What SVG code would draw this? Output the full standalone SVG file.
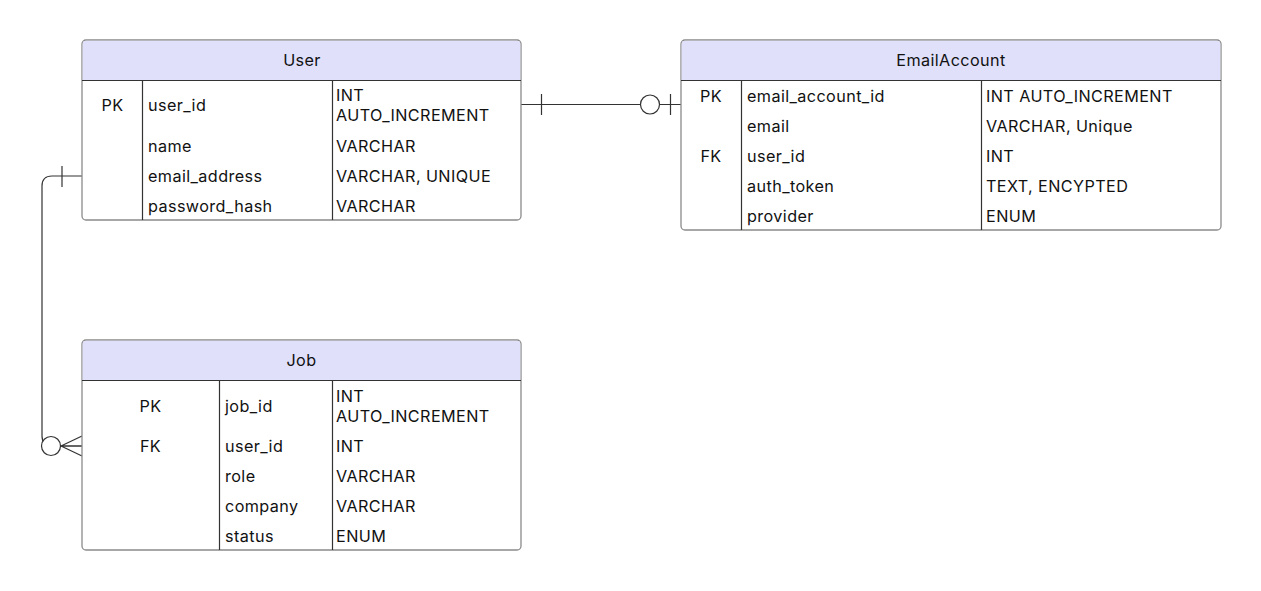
<svg xmlns="http://www.w3.org/2000/svg" width="1261" height="591" viewBox="0 0 1261 591">
<style>
.box{fill:#ffffff;stroke:#8a8a8a;stroke-width:1.3}
.hdr{fill:#e0e0fb}
.sep{stroke:#333333;stroke-width:1.2}
.t{font-family:Inter,"Liberation Sans",sans-serif;font-size:16.2px;letter-spacing:0.4px;fill:#111111}
.c{text-anchor:middle}
.ln{fill:none;stroke:#333333;stroke-width:1.2}
.ring{fill:#ffffff;stroke:#333333;stroke-width:1.2}
</style>
<rect width="1261" height="591" fill="#ffffff"/>
<g id="connectors">
  <path class="ln" d="M521,104.5 H681"/>
  <path class="ln" d="M541.5,94 V115"/>
  <circle class="ring" cx="650" cy="104.5" r="9.5"/>
  <path class="ln" d="M670.5,94 V115"/>
  <path class="ln" d="M82,176 H52 Q42,176 42,186 V436 Q42,446 52,446 H82"/>
  <path class="ln" d="M62,166 V187"/>
  <circle class="ring" cx="51" cy="446" r="9.5"/>
  <path class="ln" d="M61,446 L82,436 M61,446 L82,446 M61,446 L82,456"/>
</g>
<g id="User">
  <rect class="box" x="82" y="40" width="439" height="180" rx="4"/>
  <path class="hdr" d="M86,40.7 H517 Q520.3,40.7 520.3,44 V80 H82.7 V44 Q82.7,40.7 86,40.7 Z"/>
  <path class="sep" d="M82,80.5 H521 M142.5,80.5 V220 M332.5,80.5 V220"/>
  <text class="t c" x="302" y="65.5">User</text>
  <text class="t c" x="112.5" y="110.5">PK</text>
  <text class="t" x="148" y="110.5">user_id</text>
  <text class="t" x="336" y="100.5">INT</text>
  <text class="t" x="336" y="120.5">AUTO_INCREMENT</text>
  <text class="t" x="148" y="151.5">name</text>
  <text class="t" x="336" y="151.5">VARCHAR</text>
  <text class="t" x="148" y="181.5">email_address</text>
  <text class="t" x="336" y="181.5">VARCHAR, UNIQUE</text>
  <text class="t" x="148" y="211.5">password_hash</text>
  <text class="t" x="336" y="211.5">VARCHAR</text>
</g>
<g id="EmailAccount">
  <rect class="box" x="681" y="40" width="540" height="190" rx="4"/>
  <path class="hdr" d="M685,40.7 H1217 Q1220.3,40.7 1220.3,44 V80 H681.7 V44 Q681.7,40.7 685,40.7 Z"/>
  <path class="sep" d="M681,80.5 H1221 M741.5,80.5 V230 M981.5,80.5 V230"/>
  <text class="t c" x="951" y="65.5">EmailAccount</text>
  <text class="t c" x="711" y="101.5">PK</text>
  <text class="t" x="747" y="101.5">email_account_id</text>
  <text class="t" x="986" y="101.5">INT AUTO_INCREMENT</text>
  <text class="t" x="747" y="131.5">email</text>
  <text class="t" x="986" y="131.5">VARCHAR, Unique</text>
  <text class="t c" x="711" y="161.5">FK</text>
  <text class="t" x="747" y="161.5">user_id</text>
  <text class="t" x="986" y="161.5">INT</text>
  <text class="t" x="747" y="191.5">auth_token</text>
  <text class="t" x="986" y="191.5">TEXT, ENCYPTED</text>
  <text class="t" x="747" y="221.5">provider</text>
  <text class="t" x="986" y="221.5">ENUM</text>
</g>
<g id="Job">
  <rect class="box" x="82" y="340" width="439" height="210" rx="4"/>
  <path class="hdr" d="M86,340.7 H517 Q520.3,340.7 520.3,344 V380 H82.7 V344 Q82.7,340.7 86,340.7 Z"/>
  <path class="sep" d="M82,380.5 H521 M219.5,380.5 V550 M332.5,380.5 V550"/>
  <text class="t c" x="301.5" y="365.5">Job</text>
  <text class="t c" x="150.5" y="411.5">PK</text>
  <text class="t" x="225" y="411.5">job_id</text>
  <text class="t" x="336" y="401.5">INT</text>
  <text class="t" x="336" y="421.5">AUTO_INCREMENT</text>
  <text class="t c" x="150.5" y="451.5">FK</text>
  <text class="t" x="225" y="451.5">user_id</text>
  <text class="t" x="336" y="451.5">INT</text>
  <text class="t" x="225" y="481.5">role</text>
  <text class="t" x="336" y="481.5">VARCHAR</text>
  <text class="t" x="225" y="511.5">company</text>
  <text class="t" x="336" y="511.5">VARCHAR</text>
  <text class="t" x="225" y="541.5">status</text>
  <text class="t" x="336" y="541.5">ENUM</text>
</g>
</svg>
